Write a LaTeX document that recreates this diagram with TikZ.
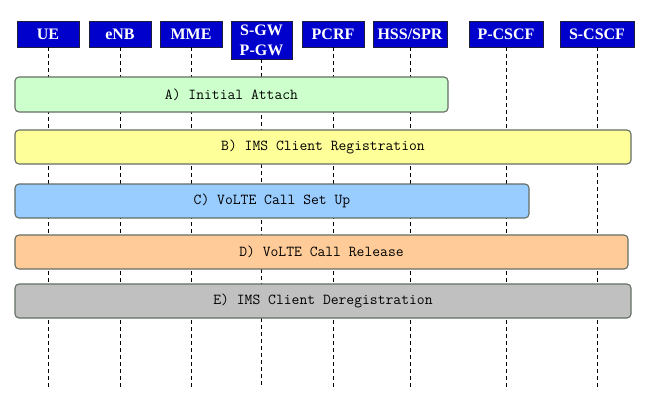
\documentclass[tikz,border=0pt]{standalone}
\usepackage{fontspec}
\newfontfamily\hdrfont{Liberation Serif}
\definecolor{hdrblue}{RGB}{0,0,204}
\definecolor{hdrline}{RGB}{30,30,60}
\definecolor{barA}{RGB}{204,255,204}
\definecolor{barB}{RGB}{255,255,153}
\definecolor{barC}{RGB}{153,204,255}
\definecolor{barD}{RGB}{255,204,153}
\definecolor{barE}{RGB}{192,192,192}
\definecolor{barline}{RGB}{100,110,100}
\begin{document}
\begin{tikzpicture}[x=1pt,y=-1pt,
  hdr/.style={draw=hdrline,fill=hdrblue,text=white,font=\hdrfont\bfseries\fontsize{16}{17}\selectfont,
    minimum width=62pt,minimum height=26pt,inner sep=0pt,align=center},
  lifeline/.style={dashed,dash pattern=on 4pt off 3pt,line width=0.8pt,black},
  phase/.style={draw=barline,line width=1.1pt,rounded corners=4pt,font=\ttfamily\fontsize{15.2}{16}\selectfont,
    inner sep=0pt,text=black}]
\useasboundingbox (0,0) rectangle (664,405);
\fill[white] (0,0) rectangle (664,405);
% headers
\node[hdr] (ue) at (48,34) {\raisebox{-1.5pt}{UE}};
\node[hdr] (enb) at (120,34) {\raisebox{-1.5pt}{eNB}};
\node[hdr] (mme) at (191,34) {\raisebox{-1.5pt}{MME}};
\node[hdr,minimum width=61pt,minimum height=38pt] (gw) at (261.5,40) {S-GW\\[3pt]P-GW};
\node[hdr] (pcrf) at (333,34) {\raisebox{-1.5pt}{PCRF}};
\node[hdr,minimum width=74pt] (hss) at (410,34) {\raisebox{-1.5pt}{HSS/SPR}};
\node[hdr,minimum width=74pt] (pcscf) at (506,34) {\raisebox{-1.5pt}{P-CSCF}};
\node[hdr,minimum width=74pt] (scscf) at (597,34) {\raisebox{-1.5pt}{S-CSCF}};
% lifeline ends
\coordinate (ueE) at (48,388);
\coordinate (enbE) at (120,388);
\coordinate (mmeE) at (191,388);
\coordinate (gwE) at (261.5,388);
\coordinate (pcrfE) at (333,388);
\coordinate (hssE) at (410,388);
\coordinate (pcscfE) at (506,388);
\coordinate (scscfE) at (597,388);
\foreach \n in {ue,enb,mme,gw,pcrf,hss,pcscf,scscf}
  \draw[lifeline] (\n.south) -- (\n E);
% phases
\node[phase,fill=barA,minimum width=433pt,minimum height=35pt] (pa) at (231.5,94.5) {\raisebox{-2pt}{A) Initial Attach}};
\node[phase,fill=barB,minimum width=616pt,minimum height=34pt] (pb) at (323,147) {\raisebox{-2pt}{B) IMS Client Registration}};
\node[phase,fill=barC,minimum width=514pt,minimum height=34pt] (pc) at (272,201) {\raisebox{-2pt}{C) VoLTE Call Set Up}};
\node[phase,fill=barD,minimum width=613pt,minimum height=34pt] (pd) at (321.5,252) {\raisebox{-2pt}{D) VoLTE Call Release}};
\node[phase,fill=barE,minimum width=616pt,minimum height=34pt] (pe) at (323,301) {\raisebox{-2pt}{E) IMS Client Deregistration}};
\end{tikzpicture}
\end{document}
